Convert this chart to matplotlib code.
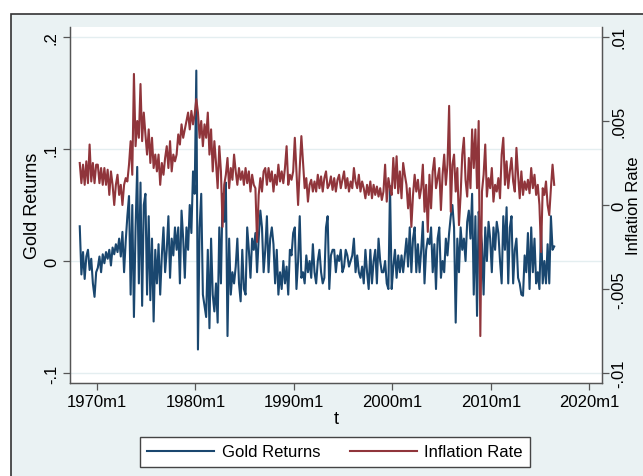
import numpy as np
import matplotlib
matplotlib.use("Agg")
import matplotlib.pyplot as plt
from matplotlib.patches import Rectangle

plt.rcParams['font.family'] = ['Liberation Sans', 'DejaVu Sans']

# bimonthly observations, starting 1968m4, step 2 months
start_year, start_month, step_months = 1968, 4, 2

gold_returns = [
    0.031, -0.012, 0.008, -0.016, 0.004,
    0.010, -0.008, 0.002, -0.020, -0.032, -0.010,
    -0.006, 0.004, -0.010, 0.006, -0.002, 0.008,
    0.002, 0.010, -0.004, 0.012, 0.006, 0.015,
    0.008, 0.020, 0.004, 0.026, -0.010, 0.018,
    0.040, 0.058, -0.030, 0.050, -0.050, 0.030,
    0.084, -0.020, 0.070, -0.040, 0.050, 0.060,
    -0.030, 0.040, -0.035, 0.020, -0.054, 0.010,
    -0.020, 0.015, -0.030, 0.005, 0.030, -0.010,
    0.010, 0.040, -0.015, 0.020, 0.005, 0.030,
    0.010, 0.030, -0.020, 0.045, 0.020, -0.015,
    0.030, 0.010, 0.050, 0.025, 0.080, 0.060,
    0.170, -0.079, 0.030, 0.060, -0.030, -0.040,
    -0.050, 0.010, -0.060, 0.020, -0.030, -0.045,
    -0.020, -0.055, 0.030, -0.020, 0.060, 0.035,
    0.070, -0.067, 0.020, -0.030, -0.010, -0.020,
    -0.005, 0.020, -0.020, -0.036, 0.010, -0.025,
    -0.030, 0.030, 0.010, -0.015, 0.020, 0.010,
    0.025, -0.010, 0.020, 0.045, 0.030, -0.010,
    0.010, 0.040, -0.010, 0.020, 0.030, 0.015,
    -0.020, 0.010, -0.030, -0.010, -0.025, 0.000,
    -0.020, -0.005, -0.030, 0.010, 0.005, 0.025,
    0.030, -0.025, 0.000, 0.040, -0.015, -0.010,
    -0.020, 0.005, -0.010, 0.000, -0.015, 0.015,
    -0.010, -0.020, 0.000, 0.010, -0.010, -0.020,
    -0.015, 0.030, 0.040, -0.025, 0.005, 0.010,
    0.010, -0.010, 0.005, 0.000, 0.010, -0.010,
    -0.005, 0.010, 0.005, -0.005, 0.000, 0.005,
    0.020, -0.010, 0.005, -0.010, -0.015, -0.005,
    -0.020, 0.010, -0.010, -0.025, 0.010, -0.020,
    0.000, 0.010, -0.020, 0.020, 0.000, -0.010,
    -0.010, 0.000, -0.020, -0.025, 0.067, -0.025,
    -0.005, 0.010, -0.015, 0.005, -0.010, 0.005,
    -0.010, 0.005, 0.020, -0.005, 0.030, -0.010,
    0.020, 0.030, -0.010, 0.015, -0.010, 0.010,
    0.035, -0.020, 0.010, 0.020, 0.015, 0.030,
    -0.010, 0.015, -0.025, 0.020, 0.030, -0.015,
    0.000, -0.010, 0.020, 0.005, 0.025, 0.040,
    0.050, 0.030, -0.055, 0.020, -0.010, 0.030,
    0.010, 0.020, 0.000, 0.035, 0.045, 0.020,
    0.060, -0.030, 0.040, -0.049, 0.044, 0.030,
    0.015, -0.030, 0.030, 0.000, 0.035, 0.020,
    -0.010, 0.030, 0.010, 0.035, 0.025, 0.000,
    -0.020, 0.040, 0.010, 0.048, -0.020, 0.030,
    0.040, -0.020, 0.010, 0.020, -0.015, -0.020,
    -0.030, -0.031, 0.005, -0.010, 0.025, -0.025,
    0.030, -0.010, 0.020, -0.020, -0.010, -0.025,
    0.030, -0.020, 0.000, -0.020, 0.015, -0.020,
    0.040, 0.010, 0.013,
]

inflation_rate = [
    0.0025, 0.0013, 0.0024, 0.0012, 0.0026,
    0.0013, 0.0036, 0.0014, 0.0025, 0.0013, 0.0024,
    0.0024, 0.0013, 0.0022, 0.0012, 0.0022, 0.0012,
    0.0021, 0.0006, 0.0020, 0.0012, 0.0000, 0.0012,
    0.0018, 0.0006, 0.0012, 0.0000, 0.0012, 0.0016,
    0.0014, 0.0024, 0.0038, 0.0018, 0.0078, 0.0035,
    0.0050, 0.0040, 0.0072, 0.0038, 0.0055, 0.0042,
    0.0030, 0.0045, 0.0025, 0.0040, 0.0022, 0.0030,
    0.0020, 0.0030, 0.0012, 0.0025, 0.0018, 0.0028,
    0.0035, 0.0022, 0.0038, 0.0020, 0.0030, 0.0026,
    0.0030, 0.0042, 0.0036, 0.0048, 0.0040, 0.0045,
    0.0050, 0.0055, 0.0045, 0.0056, 0.0048, 0.0054,
    0.0063, 0.0055, 0.0040, 0.0050, 0.0035, 0.0048,
    0.0040, 0.0055, 0.0030, 0.0045, 0.0020, 0.0038,
    0.0025, 0.0010, 0.0035, 0.0020, -0.0013, 0.0012,
    0.0018, 0.0028, 0.0010, 0.0022, 0.0015, 0.0030,
    0.0020, 0.0012, 0.0022, 0.0015, 0.0020, 0.0012,
    0.0022, 0.0013, 0.0020, 0.0008, 0.0018, 0.0012,
    0.0010, -0.0022, 0.0006, 0.0016, 0.0008, 0.0020,
    0.0022, 0.0012, 0.0022, 0.0014, 0.0020, 0.0008,
    0.0018, 0.0012, 0.0024, 0.0014, 0.0020, 0.0013,
    0.0022, 0.0035, 0.0012, 0.0018, 0.0015, 0.0020,
    0.0040, 0.0020, 0.0000, 0.0022, 0.0041, 0.0025,
    0.0010, 0.0016, 0.0002, 0.0012, 0.0015, 0.0008,
    0.0014, 0.0008, 0.0018, 0.0010, 0.0017, 0.0008,
    0.0016, 0.0020, 0.0010, 0.0012, 0.0017, 0.0009,
    0.0016, 0.0008, 0.0015, 0.0018, 0.0010, 0.0015,
    0.0020, 0.0010, 0.0016, 0.0008, 0.0014, 0.0010,
    0.0022, 0.0014, 0.0010, 0.0018, 0.0008, 0.0014,
    0.0010, 0.0004, 0.0012, 0.0006, 0.0014, 0.0004,
    0.0012, 0.0006, 0.0011, 0.0005, 0.0010, 0.0003,
    0.0008, 0.0024, 0.0002, 0.0016, 0.0010, 0.0006,
    0.0028, 0.0010, 0.0029, 0.0007, 0.0020, 0.0004,
    0.0025, 0.0018, 0.0012, -0.0002, 0.0010, -0.0013,
    0.0006, 0.0018, 0.0008, 0.0015, 0.0004, 0.0010,
    0.0024, -0.0004, 0.0012, -0.0016, 0.0018, -0.0002,
    0.0020, 0.0028, 0.0010, 0.0016, 0.0022, -0.0003,
    0.0018, 0.0030, 0.0012, 0.0024, 0.0059, -0.0004,
    0.0024, 0.0030, 0.0008, 0.0022, -0.0012, 0.0006,
    0.0030, 0.0040, 0.0015, 0.0005, 0.0028, 0.0010,
    0.0045, 0.0022, 0.0045, 0.0010, 0.0050, -0.0078,
    0.0008, 0.0018, 0.0036, 0.0005, 0.0016, 0.0010,
    0.0022, 0.0002, 0.0012, 0.0008, 0.0016, 0.0004,
    0.0030, 0.0040, 0.0012, 0.0026, 0.0010, 0.0020,
    0.0028, 0.0014, 0.0008, 0.0034, 0.0018, 0.0004,
    0.0020, 0.0006, 0.0014, 0.0009, 0.0015, 0.0007,
    0.0022, 0.0010, 0.0018, 0.0006, 0.0012, 0.0000,
    -0.0028, 0.0010, 0.0006, 0.0014, 0.0000, -0.0006,
    0.0010, 0.0024, 0.0012,
]

xtick_years = [1970, 1980, 1990, 2000, 2010, 2020]
xtick_labels = ["1970m1", "1980m1", "1990m1", "2000m1", "2010m1", "2020m1"]
left_ticks = [-0.1, 0.0, 0.1, 0.2]
left_tick_labels = ["-.1", "0", ".1", ".2"]
right_ticks = [-0.01, -0.005, 0.0, 0.005, 0.01]
right_tick_labels = ["-.01", "-.005", "0", ".005", ".01"]

n = len(gold_returns)
t0 = start_year + (start_month - 1) / 12.0
t = t0 + np.arange(n) * step_months / 12.0

BG = "#EAF2F3"
NAVY = "#1A476F"
MAROON = "#90353B"
GRID = "#E4EEF0"
AX = "#555555"

W, H = 643, 477
fig = plt.figure(figsize=(W / 100, H / 100), dpi=100)
fig.patch.set_facecolor("white")
frame = Rectangle((11 / W, -0.1), 1.2, (H - 15) / H + 0.1,
                  transform=fig.transFigure, facecolor=BG,
                  edgecolor="#333333", linewidth=1.2, zorder=-10)
fig.add_artist(frame)

ax = fig.add_axes([70 / W, (H - 384) / H, 532 / W, 356 / H])
ax.set_facecolor("white")
ax.set_xlim(1967.26, 2021.27)
ax.set_ylim(-0.1089, 0.2089)
for y in left_ticks:
    ax.axhline(y, color=GRID, lw=1.0, zorder=0)
ax.plot(t, gold_returns, color=NAVY, lw=1.5, label="Gold Returns", zorder=2)
ax.set_yticks(left_ticks)
ax.set_yticklabels(left_tick_labels, rotation=90, va="center", fontsize=12)
ax.set_xticks(xtick_years)
ax.set_xticklabels(xtick_labels, fontsize=12)
ax.set_ylabel("Gold Returns", fontsize=13, labelpad=2)
ax.set_xlabel("t", fontsize=13, labelpad=1)
ax.tick_params(direction="out", length=5, width=0.9, color=AX, pad=3)
ax.spines["top"].set_visible(False)
for s in ["left", "bottom", "right"]:
    ax.spines[s].set_color(AX)
    ax.spines[s].set_linewidth(0.9)

ax2 = ax.twinx()
ax2.set_ylim((-0.1089 - 0.05) / 15, (0.2089 - 0.05) / 15)
ax2.plot(t, inflation_rate, color=MAROON, lw=1.5, label="Inflation Rate", zorder=3)
ax2.set_yticks(right_ticks)
ax2.set_yticklabels(right_tick_labels, rotation=90, va="center", fontsize=12)
ax2.set_ylabel("Inflation Rate", fontsize=12, labelpad=0)
ax2.tick_params(direction="out", length=5, width=0.9, color=AX, pad=1.5)
ax2.spines["top"].set_visible(False)
for s in ["left", "bottom", "right"]:
    ax2.spines[s].set_color(AX)
    ax2.spines[s].set_linewidth(0.9)

h1, l1 = ax.get_legend_handles_labels()
h2, l2 = ax2.get_legend_handles_labels()
leg = fig.legend(h1 + h2, l1 + l2, loc="center", ncol=2,
                 bbox_to_anchor=(335 / W, 1 - 453 / H), fontsize=12,
                 frameon=True, fancybox=False, handlelength=4.0,
                 columnspacing=1.8, handletextpad=0.45, borderpad=0.45,
                 borderaxespad=0.0, facecolor="white", framealpha=1.0)
leg.get_frame().set_edgecolor("#444444")
leg.get_frame().set_linewidth(1.0)

fig.savefig("out.png", dpi=100, facecolor=fig.get_facecolor())
